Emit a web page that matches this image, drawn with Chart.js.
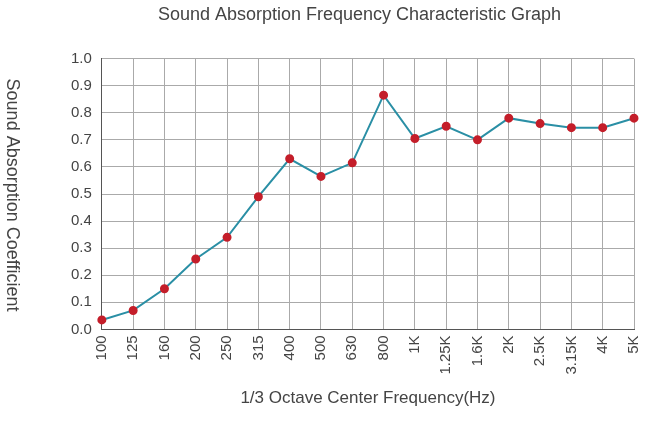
<!DOCTYPE html>
<html><head><meta charset="utf-8">
<script src="https://cdn.jsdelivr.net/npm/chart.js@4"></script>
<style>html,body{margin:0;padding:0;background:#fff}#wrap{width:658px;height:433px}</style>
</head><body><div id="wrap"><canvas id="c"></canvas></div>
<script>
// frequencies (1/3 octave centres) and absorption readings
const freqLabels = ['100','125','160','200','250','315','400','500','630','800','1K','1.25K','1.6K','2K','2.5K','3.15K','4K','5K'];
const absorption = [0.035,0.07,0.15,0.26,0.34,0.49,0.63,0.565,0.615,0.865,0.705,0.75,0.70,0.78,0.76,0.745,0.745,0.78];
const yTicks = [0,0.1,0.2,0.3,0.4,0.5,0.6,0.7,0.8,0.9,1.0];

const txt = '#444';
const sideTitle = {
  id: 'sideTitle',
  afterDraw(chart) {
    const c = chart.ctx;
    c.save();
    c.fillStyle = txt;
    c.font = '18px "Liberation Sans", Arial, sans-serif';
    c.translate(12, 195);
    c.rotate(Math.PI / 2);
    c.textAlign = 'center';
    c.textBaseline = 'middle';
    c.fillText('Sound Absorption Coefficient', 0, 0);
    c.restore();
  }
};

new Chart(document.getElementById('c'), {
  type: 'line',
  data: {
    labels: freqLabels,
    datasets: [{
      data: absorption,
      borderColor: '#2a8fa5',
      borderWidth: 2,
      pointBackgroundColor: '#c41e2a',
      pointBorderColor: '#c41e2a',
      pointRadius: 3.5,
      tension: 0
    }]
  },
  options: {
    responsive: true,
    maintainAspectRatio: false,
    animation: false,
    layout: { padding: { left: 61, right: 0, top: 0, bottom: 20 } },
    plugins: {
      legend: { display: false },
      tooltip: { enabled: false },
      title: {
        display: true,
        text: 'Sound Absorption Frequency Characteristic Graph',
        color: txt,
        font: { family: '"Liberation Sans", Arial, sans-serif', size: 18, weight: 'normal' },
        padding: { top: 4, bottom: 33 }
      }
    },
    scales: {
      x: {
        offset: false,
        grid: { color: '#aaa', drawTicks: false },
        border: { color: '#555' },
        ticks: { color: txt, minRotation: 90, maxRotation: 90, padding: 6,
          font: { family: '"Liberation Sans", Arial, sans-serif', size: 15 } },
        title: { display: true, text: '1/3 Octave Center Frequency(Hz)', color: txt,
          font: { family: '"Liberation Sans", Arial, sans-serif', size: 17 }, padding: { top: 8 } }
      },
      y: {
        min: 0, max: 1,
        afterBuildTicks(axis) { axis.ticks = yTicks.map(v => ({ value: v })); },
        grid: { color: '#aaa', drawTicks: false },
        border: { color: '#555' },
        ticks: { color: txt, padding: 10, callback: v => v.toFixed(1),
          font: { family: '"Liberation Sans", Arial, sans-serif', size: 15 } }
      }
    }
  },
  plugins: [sideTitle]
});
</script></body></html>
